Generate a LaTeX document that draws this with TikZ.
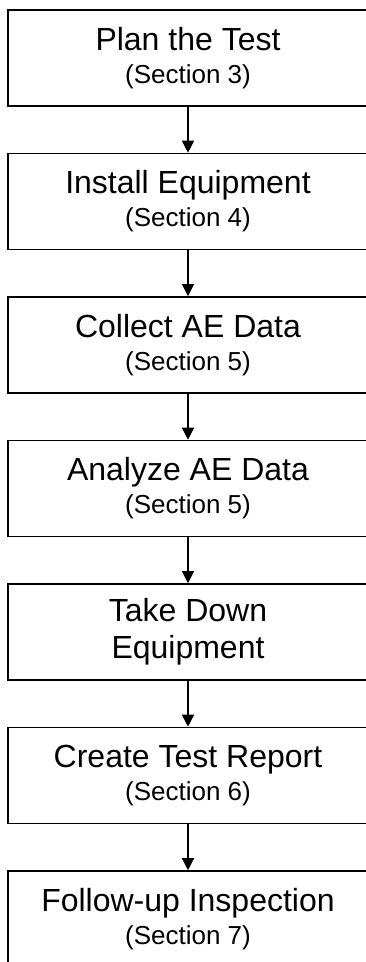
\documentclass[tikz,border=0pt]{standalone}
\usepackage{fontspec}
\setmainfont{Liberation Sans}
\usepackage{tikz}
\usetikzlibrary{arrows.meta,positioning}
\newcommand{\bigtxt}{\fontsize{32}{33}\selectfont}
\newcommand{\smalltxt}{\fontsize{26}{33}\selectfont}

\begin{document}
\begin{tikzpicture}[x=1pt,y=1pt,
  stepbox/.style={draw,line width=1.6pt,minimum width=360pt,minimum height=96pt,inner sep=0pt,align=center,font=\bigtxt},
  flow/.style={line width=1.3pt,-{Triangle[length=12pt,width=12pt]}},
  node distance=45.9pt]
\useasboundingbox (0,0) rectangle (366,-962);
\node[stepbox] (plan) at (188,-58) {Plan the Test\\{\smalltxt (Section 3)}};
\node[stepbox,below=of plan] (install) {Install Equipment\\{\smalltxt (Section 4)}};
\node[stepbox,below=of install] (collect) {Collect AE Data\\{\smalltxt (Section 5)}};
\node[stepbox,below=of collect] (analyze) {Analyze AE Data\\{\smalltxt (Section 5)}};
\node[stepbox,below=of analyze] (takedown) {Take Down\\[4pt]Equipment};
\node[stepbox,below=of takedown] (report) {Create Test Report\\{\smalltxt (Section 6)}};
\node[stepbox,below=of report] (followup) {Follow-up Inspection\\{\smalltxt (Section 7)}};
\draw[flow] (plan) -- (install);
\draw[flow] (install) -- (collect);
\draw[flow] (collect) -- (analyze);
\draw[flow] (analyze) -- (takedown);
\draw[flow] (takedown) -- (report);
\draw[flow] (report) -- (followup);
\end{tikzpicture}
\end{document}
